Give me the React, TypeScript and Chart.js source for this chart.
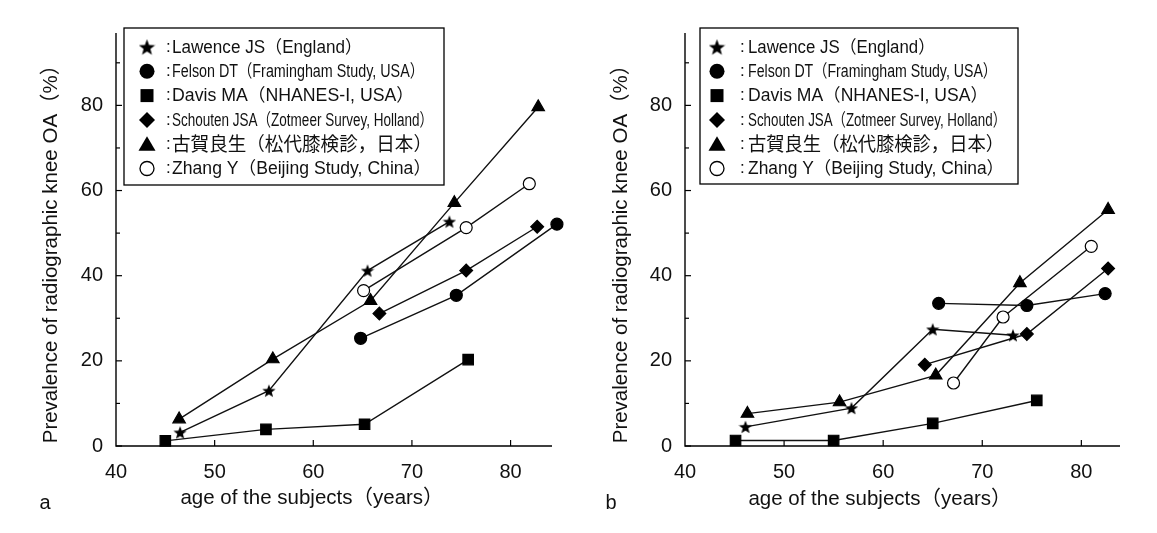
import React, { useEffect, useRef } from 'react';
import { Chart, registerables } from 'chart.js';

Chart.register(...registerables);

const FONT = "'Liberation Sans', Arial, Helvetica, sans-serif";
const CJK = "'Noto Sans CJK JP', 'Noto Sans CJK SC', sans-serif";

// ---------- text ----------
const legendNames = [
  'Lawence JS（England）',
  'Felson DT（Framingham Study, USA）',
  'Davis MA（NHANES-I, USA）',
  'Schouten JSA（Zotmeer Survey, Holland）',
  '古賀良生（松代膝検診，日本）',
  'Zhang Y（Beijing Study, China）',
];
const xTitle = 'age of the subjects（years）';
const yTitle = 'Prevalence of radiographic knee OA（%）';
const xTickValues = [40, 50, 60, 70, 80];
const yLabelValues = [0, 20, 40, 60, 80];
const yMinorValues = [10, 30, 50, 70, 90];

// ---------- panel a ----------
const aLawenceAge = [46.5, 55.5, 65.5, 73.8];
const aLawenceVal = [3.2, 13.0, 41.2, 52.7];
const aFelsonAge = [64.8, 74.5, 84.7];
const aFelsonVal = [25.3, 35.4, 52.1];
const aDavisAge = [45.0, 55.2, 65.2, 75.7];
const aDavisVal = [1.2, 3.9, 5.1, 20.3];
const aSchoutenAge = [66.7, 75.5, 82.7];
const aSchoutenVal = [31.1, 41.2, 51.5];
const aKogaAge = [46.4, 55.9, 65.8, 74.3, 82.8];
const aKogaVal = [6.3, 20.4, 34.1, 57.1, 79.6];
const aZhangAge = [65.1, 75.5, 81.9];
const aZhangVal = [36.5, 51.3, 61.6];

// ---------- panel b ----------
const bLawenceAge = [46.1, 56.8, 65.0, 73.1];
const bLawenceVal = [4.5, 8.9, 27.4, 26.0];
const bFelsonAge = [65.6, 74.5, 82.4];
const bFelsonVal = [33.5, 33.0, 35.8];
const bDavisAge = [45.1, 55.0, 65.0, 75.5];
const bDavisVal = [1.3, 1.3, 5.3, 10.7];
const bSchoutenAge = [64.2, 74.5, 82.7];
const bSchoutenVal = [19.1, 26.3, 41.7];
const bKogaAge = [46.3, 55.6, 65.3, 73.8, 82.7];
const bKogaVal = [7.6, 10.3, 16.6, 38.3, 55.5];
const bZhangAge = [67.1, 72.1, 81.0];
const bZhangVal = [14.8, 30.3, 46.9];

const markerKinds = ['star', 'circle', 'square', 'diamond', 'triangle', 'open'];

type Panel = {
  letter: string;
  left: number;
  width: number;
  xMax: number;
  yWidth: number;
  padRight: number;
  series: [number[], number[]][];
  legend: { left: number; top: number; w: number; h: number; mark: number; colon: number; text: number; widths: number[] };
  yTitleX: number;
  yTitleY: number;
  xTitleX: number;
  xTitleY: number;
  letterX: number;
  letterY: number;
};

const panels: Panel[] = [
  {
    letter: 'a',
    left: 0,
    width: 560,
    xMax: 84.2,
    yWidth: 108,
    padRight: 16,
    series: [
      [aLawenceAge, aLawenceVal],
      [aFelsonAge, aFelsonVal],
      [aDavisAge, aDavisVal],
      [aSchoutenAge, aSchoutenVal],
      [aKogaAge, aKogaVal],
      [aZhangAge, aZhangVal],
    ],
    legend: { left: 116, top: 20, w: 320, h: 157, mark: 23, colon: 42, text: 48, widths: [190, 252, 242, 261, 260, 259] },
    yTitleX: 43,
    yTitleY: 241,
    xTitleX: 304,
    xTitleY: 490,
    letterX: 37,
    letterY: 495,
  },
  {
    letter: 'b',
    left: 570,
    width: 570,
    xMax: 83.9,
    yWidth: 107,
    padRight: 28,
    series: [
      [bLawenceAge, bLawenceVal],
      [bFelsonAge, bFelsonVal],
      [bDavisAge, bDavisVal],
      [bSchoutenAge, bSchoutenVal],
      [bKogaAge, bKogaVal],
      [bZhangAge, bZhangVal],
    ],
    legend: { left: 122, top: 20, w: 318, h: 156, mark: 17, colon: 40, text: 48, widths: [187, 249, 240, 258, 256, 256] },
    yTitleX: 43,
    yTitleY: 241,
    xTitleX: 302,
    xTitleY: 491,
    letterX: 33,
    letterY: 495,
  },
];

function makeStar(size: number) {
  const c = document.createElement('canvas');
  c.width = size;
  c.height = size;
  const g = c.getContext('2d')!;
  const R = size / 2;
  const r = R * 0.42;
  const cx = size / 2;
  const cy = size / 2 + size * 0.05;
  g.beginPath();
  for (let i = 0; i < 10; i++) {
    const rad = -Math.PI / 2 + (i * Math.PI) / 5;
    const rr = i % 2 === 0 ? R : r;
    g.lineTo(cx + rr * Math.cos(rad), cy + rr * Math.sin(rad));
  }
  g.closePath();
  g.fillStyle = '#000';
  g.fill();
  return c;
}

function drawLegendMarker(ctx: CanvasRenderingContext2D, kind: string, x: number, y: number, star: HTMLCanvasElement) {
  ctx.save();
  ctx.fillStyle = '#000';
  ctx.strokeStyle = '#000';
  ctx.lineWidth = 1.3;
  ctx.beginPath();
  if (kind === 'star') {
    ctx.drawImage(star, x - star.width / 2, y - star.height / 2);
  } else if (kind === 'circle') {
    ctx.arc(x, y, 7.5, 0, Math.PI * 2);
    ctx.fill();
  } else if (kind === 'square') {
    ctx.rect(x - 6.5, y - 6.5, 13, 13);
    ctx.fill();
  } else if (kind === 'diamond') {
    ctx.moveTo(x, y - 8);
    ctx.lineTo(x + 8, y);
    ctx.lineTo(x, y + 8);
    ctx.lineTo(x - 8, y);
    ctx.closePath();
    ctx.fill();
  } else if (kind === 'triangle') {
    ctx.moveTo(x, y - 8);
    ctx.lineTo(x + 8.5, y + 6.5);
    ctx.lineTo(x - 8.5, y + 6.5);
    ctx.closePath();
    ctx.fill();
  } else if (kind === 'open') {
    ctx.arc(x, y, 7, 0, Math.PI * 2);
    ctx.fillStyle = '#fff';
    ctx.fill();
    ctx.stroke();
  }
  ctx.restore();
}

function PanelChart({ p }: { p: Panel }) {
  const ref = useRef<HTMLCanvasElement>(null);
  useEffect(() => {
    const star = makeStar(14);
    const bigStar = makeStar(17);
    const styles: any[] = [
      { pointStyle: star, pointRadius: 7, pointBackgroundColor: '#000' },
      { pointStyle: 'circle', pointRadius: 6, pointBackgroundColor: '#000' },
      { pointStyle: 'rect', pointRadius: 7.4, pointBackgroundColor: '#000' },
      { pointStyle: 'rectRot', pointRadius: 6.4, pointBackgroundColor: '#000' },
      { pointStyle: 'triangle', pointRadius: 7.2, pointBackgroundColor: '#000' },
      { pointStyle: 'circle', pointRadius: 6, pointBackgroundColor: '#fff' },
    ];
    const datasets = p.series.map(([xs, ys], i) => ({
      label: legendNames[i],
      data: xs.map((x, j) => ({ x, y: ys[j] })),
      showLine: true,
      borderColor: '#111',
      borderWidth: 1.4,
      pointBorderColor: '#000',
      pointBorderWidth: 1.2,
      clip: false as any,
      ...styles[i],
    }));

    const decor = {
      id: 'decor',
      beforeDatasetsDraw(chart: any) {
        const { ctx, chartArea: a, scales } = chart;
        ctx.save();
        ctx.strokeStyle = '#000';
        ctx.lineWidth = 1.4;
        ctx.beginPath();
        ctx.moveTo(a.left, a.top);
        ctx.lineTo(a.left, a.bottom);
        ctx.lineTo(a.right, a.bottom);
        ctx.stroke();
        ctx.lineWidth = 1.2;
        for (const t of scales.y.ticks) {
          const yy = scales.y.getPixelForValue(t.value);
          const len = yLabelValues.includes(t.value) ? 6 : 4;
          ctx.beginPath();
          ctx.moveTo(a.left, yy);
          ctx.lineTo(a.left + len, yy);
          ctx.stroke();
        }
        for (const t of scales.x.ticks) {
          if (t.value === xTickValues[0]) continue;
          const xx = scales.x.getPixelForValue(t.value);
          ctx.beginPath();
          ctx.moveTo(xx, a.bottom);
          ctx.lineTo(xx, a.bottom - 6);
          ctx.stroke();
        }
        ctx.restore();
      },
      afterDraw(chart: any) {
        const { ctx } = chart;
        ctx.save();
        ctx.fillStyle = '#111';
        ctx.textAlign = 'center';
        ctx.textBaseline = 'middle';
        // x title
        ctx.font = `20.5px ${FONT}, ${CJK}`;
        ctx.fillText(xTitle, p.xTitleX, p.xTitleY);
        // y title
        ctx.save();
        ctx.translate(p.yTitleX, p.yTitleY);
        ctx.rotate(-Math.PI / 2);
        ctx.fillText(yTitle, 0, 0);
        ctx.restore();
        // panel letter
        ctx.font = `20px ${FONT}`;
        ctx.fillText(p.letter, p.letterX, p.letterY);
        // legend
        const L = p.legend;
        ctx.fillStyle = '#fff';
        ctx.fillRect(L.left, L.top, L.w, L.h);
        ctx.strokeStyle = '#000';
        ctx.lineWidth = 1.3;
        ctx.strokeRect(L.left, L.top, L.w, L.h);
        legendNames.forEach((name, i) => {
          const cy = L.top + 19 + i * 24.3;
          drawLegendMarker(ctx, markerKinds[i], L.left + L.mark, cy, bigStar);
          ctx.fillStyle = '#111';
          ctx.textAlign = 'left';
          ctx.textBaseline = 'middle';
          ctx.font = `17px ${FONT}`;
          ctx.fillText(':', L.left + L.colon, cy);
          const isCjk = i === 4;
          ctx.font = isCjk ? `19px ${CJK}` : `17.5px ${FONT}, ${CJK}`;
          const natural = ctx.measureText(name).width;
          const sx = L.widths[i] / natural;
          ctx.save();
          ctx.translate(L.left + L.text, cy + (isCjk ? 0 : 1));
          ctx.scale(sx, 1);
          ctx.fillText(name, 0, 0);
          ctx.restore();
        });
        ctx.restore();
      },
    };

    const chart = new Chart(ref.current!, {
      type: 'scatter',
      data: { datasets },
      options: {
        responsive: false,
        animation: false,
        layout: { padding: { left: 0, top: 22, right: p.padRight, bottom: 0 } },
        plugins: { legend: { display: false }, tooltip: { enabled: false } },
        scales: {
          x: {
            type: 'linear',
            min: 40,
            max: p.xMax,
            grid: { display: false, drawTicks: false },
            border: { display: false },
            ticks: {
              padding: 14,
              autoSkip: false,
              maxRotation: 0,
              color: '#111',
              font: { family: FONT, size: 20 },
            },
            afterBuildTicks: (s: any) => {
              s.ticks = xTickValues.map((v) => ({ value: v }));
            },
            afterFit: (s: any) => {
              s.height = 79;
            },
          },
          y: {
            type: 'linear',
            min: 0,
            max: 97,
            grid: { display: false, drawTicks: false },
            border: { display: false },
            ticks: {
              padding: 13,
              autoSkip: false,
              color: '#111',
              font: { family: FONT, size: 20 },
              callback: (v: any) => (yLabelValues.includes(Number(v)) ? String(v) : ''),
            },
            afterBuildTicks: (s: any) => {
              s.ticks = [...yLabelValues, ...yMinorValues].sort((m, n) => m - n).map((v) => ({ value: v }));
            },
            afterFit: (s: any) => {
              s.width = p.yWidth;
            },
          },
        },
      },
      plugins: [decor],
    } as any);
    return () => chart.destroy();
  }, []);
  return (
    <canvas
      ref={ref}
      width={p.width}
      height={517}
      style={{ position: 'absolute', left: p.left, top: 0, width: p.width, height: 517 }}
    />
  );
}

export default function App() {
  return (
    <div style={{ position: 'relative', width: 1141, height: 517, background: '#fff' }}>
      <div
        style={{
          position: 'absolute',
          left: -1,
          top: -1,
          width: 1144,
          height: 526,
          boxSizing: 'border-box',
          borderTop: '1.5px solid #222',
          borderLeft: '1.5px solid #222',
          borderRight: '1.5px solid #222',
        }}
      />
      {panels.map((p) => (
        <PanelChart key={p.letter} p={p} />
      ))}
    </div>
  );
}
